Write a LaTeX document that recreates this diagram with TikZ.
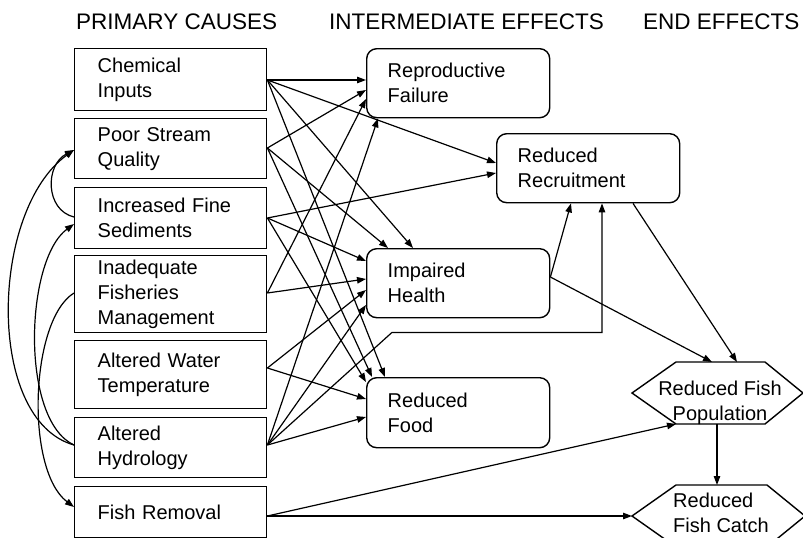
\documentclass[tikz,border=0pt]{standalone}
\usepackage{fontspec}
\setmainfont{Liberation Sans}
\usetikzlibrary{arrows.meta,calc}
\begin{document}
\begin{tikzpicture}[x=1pt,y=-1pt,
  font=\fontsize{20}{25}\selectfont,
  heading/.style={anchor=base west, inner sep=0pt, font=\fontsize{22.5}{27}\selectfont},
  causebox/.style={draw, line width=1.4pt, anchor=north west, minimum width=192pt,
    text width=146pt, inner xsep=23pt, inner ysep=0pt, align=left},
  effectbox/.style={draw, line width=1.4pt, rounded corners=10pt, anchor=north west,
    minimum width=183pt, minimum height=69pt, text width=141pt, inner xsep=21pt,
    inner ysep=0pt, align=left},
  hexline/.style={draw, line width=1.4pt, line join=miter},
  conn/.style={-{Triangle[length=9pt,width=6.5pt]}, line width=1.2pt}]

\fill[white] (0,0) rectangle (803,538);
\useasboundingbox (0,0) rectangle (803,538);

% column headings
\node[heading] (h-prim) at (76,29) {PRIMARY CAUSES};
\node[heading] (h-int)  at (329,29) {INTERMEDIATE EFFECTS};
\node[heading] (h-end)  at (643,29) {END EFFECTS};

% primary causes
\node[causebox, minimum height=62pt] (chem) at (74,48)  {Chemical\\Inputs};
\node[causebox, minimum height=60pt] (psq)  at (74,118) {Poor Stream\\Quality};
\node[causebox, minimum height=61pt] (sed)  at (74,187) {Increased Fine\\Sediments};
\node[causebox, minimum height=77pt] (mgmt) at (74,255) {Inadequate\\Fisheries\\Management};
\node[causebox, minimum height=68pt] (temp) at (74,340) {Altered Water\\Temperature};
\node[causebox, minimum height=60pt] (hyd)  at (74,417) {Altered\\Hydrology};
\node[causebox, minimum height=51pt] (rem)  at (74,486) {Fish Removal};

% intermediate effects
\node[effectbox] (repro)  at (366,48)  {Reproductive\\Failure};
\node[effectbox] (recr)   at (496,133) {Reduced\\Recruitment};
\node[effectbox] (health) at (366,248) {Impaired\\Health};
\node[effectbox, minimum height=70pt] (food) at (366,377) {Reduced\\Food};

% end effects: two flat hexagons
\path (632,393) coordinate (popL)  (676,362) coordinate (popTL)
      (765,362) coordinate (popTR) (803,393) coordinate (popR)
      (765,424) coordinate (popBR) (676,424) coordinate (popBL);
\draw[hexline] (popL) -- (popTL) -- (popTR) -- (popR) -- (popBR) -- (popBL) -- cycle;
\node[anchor=north, inner sep=0pt, align=center] (pop) at (720,380.5) {Reduced Fish\\Population};

\path (632,516) coordinate (catL)  (676,485) coordinate (catTL)
      (767,485) coordinate (catTR) (805,516) coordinate (catR)
      (767,547) coordinate (catBR) (676,547) coordinate (catBL);
\draw[hexline] (catL) -- (catTL) -- (catTR) -- (catR) -- (catBR) -- (catBL) -- cycle;
\node[anchor=north west, inner sep=0pt, align=left] (catch) at (673,492.5) {Reduced\\Fish Catch};

% outgoing points on the primary causes
\coordinate (s1) at ($(chem.north east)+(0,32)$);
\coordinate (s2) at ($(psq.north east)+(0,30)$);
\coordinate (s3) at ($(sed.north east)+(0,31)$);
\coordinate (s4) at ($(mgmt.north east)+(0,38)$);
\coordinate (s5) at ($(temp.north east)+(0,28)$);
\coordinate (s6) at ($(hyd.north east)+(0,28)$);
\coordinate (s7) at ($(rem.north east)+(0,30)$);

% incoming points on the intermediate effects
\coordinate (r1) at ($(repro.north west)+(0,32)$);
\coordinate (r2) at ($(repro.north west)+(0,42)$);
\coordinate (r3) at ($(repro.north west)+(0,51)$);
\coordinate (r4) at ($(repro.south west)+(12,0)$);
\coordinate (rr1) at ($(recr.north west)+(0,30)$);
\coordinate (rr2) at ($(recr.north west)+(0,40)$);
\coordinate (rr3) at ($(recr.south west)+(75,0)$);
\coordinate (rr4) at ($(recr.south west)+(106,0)$);
\coordinate (rr5) at ($(recr.south west)+(137,0)$);
\coordinate (hl1) at ($(health.north west)+(22,0)$);
\coordinate (hl2) at ($(health.north west)+(47,0)$);
\coordinate (hl3) at ($(health.north west)+(0,13)$);
\coordinate (hl4) at ($(health.north west)+(0,31)$);
\coordinate (hl5) at ($(health.north west)+(0,42)$);
\coordinate (hl6) at ($(health.north west)+(0,57)$);
\coordinate (hl7) at ($(health.north east)+(0,29)$);
\coordinate (f1) at ($(food.north west)+(6,0)$);
\coordinate (f2) at ($(food.north west)+(19,0)$);
\coordinate (f3) at ($(food.north west)+(0,5)$);
\coordinate (f4) at ($(food.north west)+(0,22)$);
\coordinate (f5) at ($(food.north west)+(0,40)$);
\coordinate (bend) at ($(health.south west)+(26,14)$);

% primary causes -> intermediate effects
\draw[conn] (s1) -- (r1);
\draw[conn] (s1) -- (rr1);
\draw[conn] (s1) -- (hl2);
\draw[conn] (s1) -- (f2);
\draw[conn] (s2) -- (r2);
\draw[conn] (s2) -- (hl1);
\draw[conn] (s2) -- (f1);
\draw[conn] (s3) -- (rr2);
\draw[conn] (s3) -- (hl3);
\draw[conn] (s3) -- (f3);
\draw[conn] (s4) -- (r3);
\draw[conn] (s4) -- (hl4);
\draw[conn] (s5) -- (hl5);
\draw[conn] (s5) -- (f4);
\draw[conn] (s6) -- (r4);
\draw[conn] (s6) -- (hl6);
\draw[conn] (s6) -- (f5);
\draw[conn] (s6) -- (bend) -| (rr4);

% intermediate -> end effects
\draw[conn] (hl7) -- (rr3);
\draw[conn] (hl7) -- ($(popTL)+(36,0)$);
\draw[conn] (rr5) -- ($(popTL)+(61,0)$);
\draw[conn] (s7) -- (popBL);
\draw[conn] (s7) -- (catL);
\draw[conn] ($(popBL)+(41,0)$) -- ($(catTL)+(41,0)$);

% links among the primary causes
\coordinate (psqIn)  at ($(psq.north west)+(0,32)$);
\coordinate (sedOut) at ($(sed.north west)+(0,30)$);
\coordinate (sedIn)  at ($(sed.north west)+(0,37)$);
\coordinate (mgmtOut) at ($(mgmt.north west)+(0,38)$);
\coordinate (hydOut) at ($(hyd.north west)+(0,28)$);
\coordinate (remIn)  at ($(rem.north west)+(0,21)$);
\draw[conn] (hydOut) .. controls +(-89,-25) and +(-84,60) .. (psqIn);
\draw[conn] (hydOut) .. controls +(-54,-25) and +(-49,36) .. (sedIn);
\draw[conn] (sedOut) .. controls +(-29,-7) and +(-29,15) .. (psqIn);
\draw[conn] (mgmtOut) .. controls +(-44,27) and +(-49,-37) .. (remIn);

\end{tikzpicture}
\end{document}
